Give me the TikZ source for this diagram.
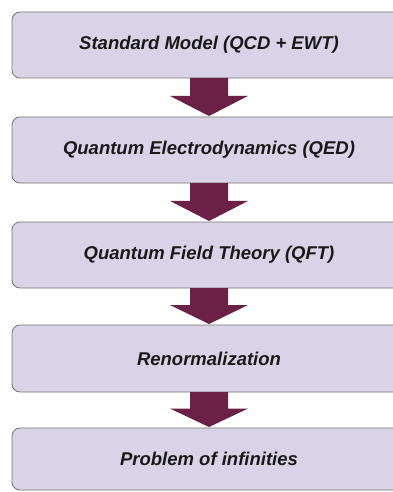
\documentclass[tikz,border=0pt]{standalone}
\usepackage{fontspec}
\setmainfont{Liberation Sans}
\begin{document}
\begin{tikzpicture}[x=1pt,y=-1pt,
  stage/.style={draw=gray!90!black, line width=0.8pt, fill=boxfill, rounded corners=8pt},
  stagetext/.style={font=\fontsize{18.5}{21}\selectfont\bfseries\itshape, text=black!90},
  flowarrow/.style={fill=arrowcol, draw=none}]
\definecolor{boxfill}{HTML}{D9D3E8}
\definecolor{arrowcol}{HTML}{6B2046}
\useasboundingbox (0,0) rectangle (393,492);
\clip (0,0) rectangle (393,492);
\fill[white] (0,0) rectangle (393,492);
% boxes
\foreach \t/\b/\n in {12/78/b1, 117/183/b2, 222/288/b3, 325/392/b4, 428/490/b5}{
  \draw[stage] (12,\t) rectangle (406,\b);
  \coordinate (\n) at (209,{(\t+\b)/2});
}
\node[stagetext] (t1) at (b1) {Standard Model (QCD + EWT)};
\node[stagetext] (t2) at (b2) {Quantum Electrodynamics (QED)};
\node[stagetext] (t3) at (b3) {Quantum Field Theory (QFT)};
\node[stagetext] (t4) at (b4) {Renormalization};
\node[stagetext] (t5) at (b5) {Problem of infinities};
% arrows
\foreach \s/\e in {78/117, 183/222, 288/325, 392/428}{
  \pgfmathsetmacro{\hs}{\s+(\e-\s)*0.46}
  \fill[flowarrow] (190,\s) -- (228,\s) -- (228,\hs) -- (248,\hs) -- (209,\e-1) -- (170,\hs) -- (190,\hs) -- cycle;
}
\end{tikzpicture}
\end{document}
